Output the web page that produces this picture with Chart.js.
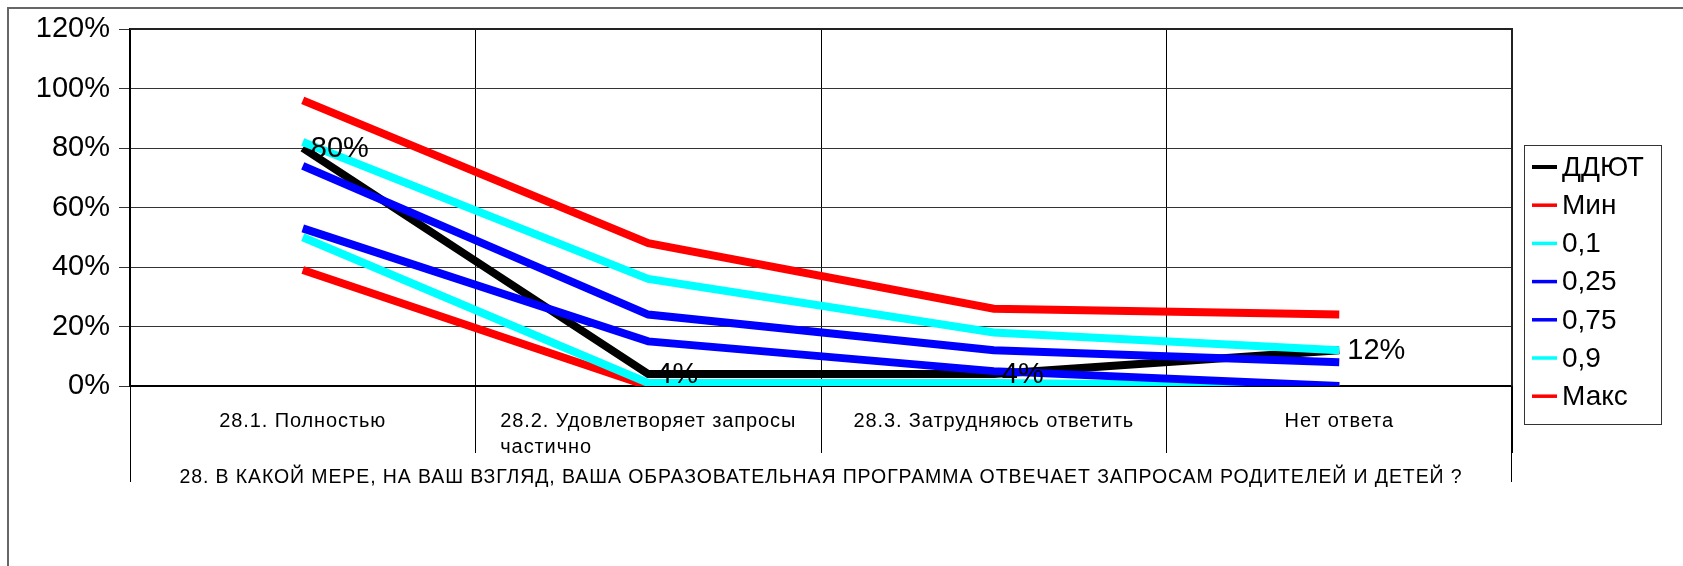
<!DOCTYPE html>
<html>
<head>
<meta charset="utf-8">
<script src="https://cdn.jsdelivr.net/npm/chart.js@4.4.0/dist/chart.umd.min.js"></script>
<style>
  html, body { margin: 0; padding: 0; background: #fff; }
  #wrap { width: 1683px; height: 566px; }
</style>
</head>
<body>
<div id="wrap"><canvas id="myChart" width="1683" height="566"></canvas></div>
<script>
// данные диаграммы
const categories = ["28.1. Полностью", ["28.2. Удовлетворяет запросы", "частично"], "28.3. Затрудняюсь ответить", "Нет ответа"];
const axisTitle = "28. В КАКОЙ МЕРЕ, НА ВАШ ВЗГЛЯД, ВАША ОБРАЗОВАТЕЛЬНАЯ ПРОГРАММА ОТВЕЧАЕТ ЗАПРОСАМ РОДИТЕЛЕЙ И ДЕТЕЙ ?";
const seriesNames = ["ДДЮТ", "Мин", "0,1", "0,25", "0,75", "0,9", "Макс"];
const ddyut = [80, 4, 4, 12];
const minValues = [39, 0, 0, 0];
const q10 = [50, 1, 1, 0];
const q25 = [53, 15, 5, 0];
const q75 = [74, 24, 12, 8];
const q90 = [82, 36, 18, 12];
const maxValues = [96, 48, 26, 24];
const yTicks = [0, 20, 40, 60, 80, 100, 120];
const seriesColors = ["#000000", "#ff0000", "#00ffff", "#0000ff", "#0000ff", "#00ffff", "#ff0000"];

const seriesValues = [ddyut, minValues, q10, q25, q75, q90, maxValues];
const FONT = "'Liberation Sans', Arial, sans-serif";

// рамка, подписи категорий, заголовок оси
const framePlugin = {
  id: "frame",
  beforeDraw(chart) {
    const ctx = chart.ctx;
    ctx.save();
    ctx.fillStyle = "#fff";
    ctx.fillRect(0, 0, chart.width, chart.height);
    ctx.strokeStyle = "#666";
    ctx.lineWidth = 2;
    ctx.beginPath();
    ctx.moveTo(8, chart.height);
    ctx.lineTo(8, 8);
    ctx.lineTo(chart.width, 8);
    ctx.stroke();
    ctx.restore();
  },
  afterDraw(chart) {
    const ctx = chart.ctx;
    const area = chart.chartArea;
    const xScale = chart.scales.x;
    ctx.save();
    // рамка области построения
    ctx.strokeStyle = "#222";
    ctx.lineWidth = 2;
    ctx.beginPath();
    ctx.moveTo(area.left, area.top);
    ctx.lineTo(area.right, area.top);
    ctx.lineTo(area.right, area.bottom);
    ctx.stroke();
    // внешние границы многоуровневой оси
    ctx.strokeStyle = "#000";
    ctx.lineWidth = 1;
    ctx.beginPath();
    ctx.moveTo(area.left + 0.5, area.bottom);
    ctx.lineTo(area.left + 0.5, area.bottom + 96);
    ctx.moveTo(area.right - 0.5, area.bottom);
    ctx.lineTo(area.right - 0.5, area.bottom + 96);
    ctx.stroke();

    ctx.fillStyle = "#000";
    ctx.textBaseline = "alphabetic";
    ctx.textAlign = "left";
    ctx.font = "20px " + FONT;
    ctx.letterSpacing = "0.9px";
    categories.forEach((c, i) => {
      const lines = [].concat(c);
      const x = xScale.getPixelForValue(i);
      const w = ctx.measureText(lines[0]).width;
      lines.forEach((line, k) => {
        ctx.fillText(line, x - w / 2, area.bottom + 41 + k * 26);
      });
    });

    ctx.font = "19.5px " + FONT;
    ctx.letterSpacing = "0.9px";
    ctx.textAlign = "center";
    ctx.fillText(axisTitle, (area.left + area.right) / 2, area.bottom + 97);
    ctx.letterSpacing = "0px";

    // легенда
    const lx = area.right + 12, ly = 145, lw = 137, lh = 279;
    ctx.strokeStyle = "#333";
    ctx.lineWidth = 1;
    ctx.strokeRect(lx + 0.5, ly + 0.5, lw, lh);
    ctx.font = "28px " + FONT;
    ctx.textAlign = "left";
    ctx.textBaseline = "middle";
    seriesNames.forEach((name, i) => {
      const y = ly + 22 + i * 38.2;
      ctx.strokeStyle = seriesColors[i];
      ctx.lineWidth = i === 0 ? 4 : 3.5;
      ctx.beginPath();
      ctx.moveTo(lx + 8, y);
      ctx.lineTo(lx + 33, y);
      ctx.stroke();
      ctx.fillStyle = "#000";
      ctx.fillText(name, lx + 38, y + 1);
    });
    ctx.restore();
  }
};

// подписи значений ДДЮТ
const labelPlugin = {
  id: "valueLabels",
  afterDatasetsDraw(chart) {
    const ctx = chart.ctx;
    const meta = chart.getDatasetMeta(0);
    ctx.save();
    ctx.font = "29px " + FONT;
    ctx.fillStyle = "#000";
    ctx.textAlign = "left";
    ctx.textBaseline = "middle";
    meta.data.forEach((pt, i) => {
      ctx.fillText(ddyut[i] + "%", pt.x + 8, pt.y + 1);
    });
    ctx.restore();
  }
};

new Chart("myChart", {
  type: "line",
  data: {
    labels: categories,
    datasets: seriesNames.map((name, i) => ({
      label: name,
      data: seriesValues[i],
      borderColor: seriesColors[i],
      backgroundColor: seriesColors[i],
      borderWidth: 8,
      pointRadius: 0,
      tension: 0,
      fill: false,
      order: seriesNames.length - 1 - i,
    })),
  },
  options: {
    responsive: false,
    animation: false,
    layout: { padding: { top: 29, right: 171, left: 0, bottom: 0 } },
    plugins: {
      legend: { display: false },
      tooltip: { enabled: false },
    },
    scales: {
      x: {
        offset: true,
        grid: { offset: true, color: "#000", lineWidth: 1, tickLength: 67 },
        border: { color: "#000", width: 2 },
        ticks: { display: false },
        afterFit(scale) { scale.height = 180; },
      },
      y: {
        min: 0,
        max: 120,
        grid: { color: "#333", lineWidth: 1, tickLength: 11 },
        border: { color: "#000", width: 2 },
        ticks: {
          padding: 9,
          color: "#000",
          font: { family: FONT, size: 29 },
          callback: (v) => v + "%",
        },
        afterBuildTicks(scale) { scale.ticks = yTicks.map((v) => ({ value: v })); },
        afterFit(scale) { scale.width = 130; },
      },
    },
  },
  plugins: [framePlugin, labelPlugin],
});
</script>
</body>
</html>
